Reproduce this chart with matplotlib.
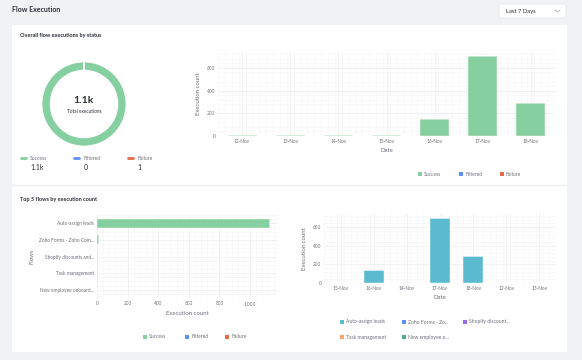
import matplotlib
matplotlib.use('Agg')
import matplotlib.pyplot as plt
import numpy as np
from matplotlib.patches import Rectangle, FancyBboxPatch
from matplotlib.lines import Line2D
from matplotlib.ticker import MultipleLocator, FuncFormatter

plt.rcParams['font.family'] = ['Lato', 'DejaVu Sans']

# donut / status totals
status_names = ['Success', 'Filtered', 'Failure']
status_totals = [1156, 0, 1]
status_labels = ['1.1k', '0', '1']
status_colors = ['#86cfa0', '#5b8ff9', '#e8684a']

# executions per date, by status
dates = ['12-Nov', '13-Nov', '14-Nov', '15-Nov', '16-Nov', '17-Nov', '18-Nov']
success_by_date = [6, 6, 6, 6, 147, 708, 294]
filtered_by_date = [0, 0, 0, 0, 0, 0, 0]
failure_by_date = [0, 0, 0, 0, 0, 1, 0]

# top 5 flows
flows = ['Auto-assign leads', 'Zoho Forms - Zoho Com...', 'Shopify discounts and...',
         'Task management', 'New employee onboard...']
flow_success = [1132, 14, 5, 4, 1]
flow_filtered = [0, 0, 0, 0, 0]
flow_failure = [1, 0, 0, 0, 0]

# per-date executions of the top flows (order as shown in the dashboard)
flow_dates = ['15-Nov', '16-Nov', '14-Nov', '17-Nov', '18-Nov', '12-Nov', '13-Nov']
flow_short = ['Auto-assign leads', 'Zoho Forms - Zo...', 'Shopify discount...',
              'Task management', 'New employee o...']
flow_colors = ['#5bbad0', '#5b8ff9', '#9b6cf0', '#f6a96a', '#4cae8d']
flow_by_date = [
    [5, 142, 5, 696, 289, 5, 5],
    [0, 1, 0, 2, 1, 0, 0],
    [0, 0, 0, 1, 0, 0, 0],
    [0, 0, 0, 1, 0, 0, 0],
    [0, 0, 0, 0, 0, 0, 0],
]

W, H = 582, 360
fig = plt.figure(figsize=(W / 100, H / 100), dpi=100)
fig.patch.set_facecolor('#f1f2f4')

TXT = '#2b2f36'
GREY = '#6b6f76'


def px_axes(x0, y0, x1, y1):
    return fig.add_axes([x0 / W, 1 - y1 / H, (x1 - x0) / W, (y1 - y0) / H])


def ftext(x, y, s, **kw):
    fig.text(x / W, 1 - y / H, s, **kw)


# cards (behind the axes)
fig.patches.append(Rectangle((12 / W, 1 - 352 / H), 555 / W, 327 / H,
                             transform=fig.transFigure, facecolor='white',
                             edgecolor='none', zorder=-2))
fig.lines.append(Line2D([12 / W, 567 / W], [1 - 185 / H, 1 - 185 / H],
                        transform=fig.transFigure, color='#eceef1', lw=1, zorder=-1))

# header
ftext(12, 9, 'Flow Execution', fontsize=5, fontweight='bold', color=TXT, va='center')
fig.patches.append(FancyBboxPatch((499 / W, 1 - 18 / H), 67 / W, 14 / H,
                                  boxstyle='round,pad=0,rounding_size=0.004',
                                  transform=fig.transFigure, facecolor='white',
                                  edgecolor='#e6e8eb', lw=0.6))
ftext(506, 11, 'Last 7 Days', fontsize=4.2, color=TXT, va='center')
fig.lines.append(Line2D([555 / W, 557.5 / W, 560 / W], [1 - 10 / H, 1 - 12 / H, 1 - 10 / H],
                        transform=fig.transFigure, color='#a0a4aa', lw=0.5))

ftext(20, 36, 'Overall flow executions by status', fontsize=4, fontweight='bold',
      color=TXT, va='center')
ftext(20, 199, 'Top 5 flows by execution count', fontsize=4, fontweight='bold',
      color=TXT, va='center')

# donut
ax = px_axes(41, 61, 127, 147)
vals = [v for v in status_totals if v > 0]
cols = [c for v, c in zip(status_totals, status_colors) if v > 0]
ax.pie(vals, colors=cols, startangle=90, counterclock=False, radius=1,
       wedgeprops=dict(width=0.2, edgecolor='white', linewidth=0.8))
ax.set_xlim(-1.02, 1.02)
ax.set_ylim(-1.02, 1.02)
ax.set_aspect('equal')
ax.text(0, 0.08, '1.1k', ha='center', va='center', fontsize=7.5, fontweight='bold', color=TXT)
ax.text(0, -0.17, 'Total executions', ha='center', va='center', fontsize=3.4, color=TXT)

for i, (name, lab, col) in enumerate(zip(status_names, status_labels, status_colors)):
    x = 20 + i * 53.5
    fig.lines.append(Line2D([(x + 0.5) / W, (x + 5.5) / W], [1 - 158 / H, 1 - 158 / H],
                            transform=fig.transFigure, color=col, lw=2,
                            solid_capstyle='round'))
    ftext(x + 10, 158, name, fontsize=3.6, color=GREY, va='center')
    ftext(x + 10, 168, lab, fontsize=5, color=TXT, va='center')


def style_grid(ax):
    ax.set_facecolor('white')
    for s in ax.spines.values():
        s.set_visible(False)
    ax.grid(True, which='major', color='#ececec', lw=0.5)
    ax.grid(True, which='minor', color='#f5f5f5', lw=0.4)
    ax.tick_params(which='both', length=0, labelsize=3.4, labelcolor=GREY, pad=2)
    ax.set_axisbelow(True)


def legend_row(y, items, xs):
    for (name, col), x in zip(items, xs):
        fig.patches.append(Rectangle((x / W, 1 - (y + 2) / H), 4 / W, 4 / H,
                                     transform=fig.transFigure, facecolor=col,
                                     edgecolor='none'))
        ftext(x + 6, y, name, fontsize=3.6, color=GREY, va='center')


bar_kw = dict(edgecolor='white', linewidth=0.3)

# executions by date
ax = px_axes(218, 52, 555, 136)
x = np.arange(len(dates))
ax.bar(x, success_by_date, width=0.6, color=status_colors[0], **bar_kw)
ax.bar(x, filtered_by_date, width=0.6, bottom=success_by_date, color=status_colors[1], **bar_kw)
ax.bar(x, failure_by_date, width=0.6,
       bottom=np.add(success_by_date, filtered_by_date), color=status_colors[2], **bar_kw)
ax.set_xticks(x)
ax.set_xticklabels(dates)
ax.set_xlim(-0.5, len(dates) - 0.5)
ax.set_xticks(np.arange(-0.5, len(dates) - 0.4, 1 / 7), minor=True)
ax.set_ylim(0, 740)
ax.yaxis.set_major_locator(MultipleLocator(200))
ax.yaxis.set_minor_locator(MultipleLocator(40))
style_grid(ax)
ax.set_xlabel('Date', fontsize=4.3, color=GREY, labelpad=3)
ax.set_ylabel('Execution count', fontsize=4.3, color=GREY, labelpad=4)
legend_row(174, list(zip(status_names, status_colors)), [418, 459, 500])

# top flows horizontal bars
ax = px_axes(97, 215, 278, 298)
y = np.arange(len(flows))
ax.barh(y, flow_success, height=0.55, color=status_colors[0], **bar_kw)
ax.barh(y, flow_filtered, height=0.55, left=flow_success, color=status_colors[1], **bar_kw)
ax.barh(y, flow_failure, height=0.55, left=np.add(flow_success, flow_filtered),
        color=status_colors[2], **bar_kw)
ax.set_yticks(y)
ax.set_yticklabels(flows)
ax.set_ylim(len(flows) - 0.5, -0.5)
ax.set_yticks(np.arange(-0.5, len(flows) - 0.4, 0.25), minor=True)
ax.set_xlim(0, 1183)
ax.xaxis.set_major_locator(MultipleLocator(200))
ax.xaxis.set_minor_locator(MultipleLocator(40))
ax.xaxis.set_major_formatter(FuncFormatter(lambda v, p: f'{int(v):,}'))
style_grid(ax)
ax.set_xlabel('Execution count', fontsize=4.3, color=GREY, labelpad=4)
ax.set_ylabel('Flows', fontsize=4.3, color=GREY, labelpad=3)
legend_row(337, list(zip(status_names, status_colors)), [143, 185, 225])

# flows by date stacked
ax = px_axes(324, 214, 556, 283)
x = np.arange(len(flow_dates))
bottom = np.zeros(len(flow_dates))
for vals, col in zip(flow_by_date, flow_colors):
    ax.bar(x, vals, width=0.6, bottom=bottom, color=col, **bar_kw)
    bottom += vals
ax.set_xticks(x)
ax.set_xticklabels(flow_dates)
ax.set_xlim(-0.5, len(flow_dates) - 0.5)
ax.set_xticks(np.arange(-0.5, len(flow_dates) - 0.4, 1 / 5), minor=True)
ax.set_ylim(0, 740)
ax.yaxis.set_major_locator(MultipleLocator(200))
ax.yaxis.set_minor_locator(MultipleLocator(40))
style_grid(ax)
ax.set_xlabel('Date', fontsize=4.3, color=GREY, labelpad=3)
ax.set_ylabel('Execution count', fontsize=4.3, color=GREY, labelpad=4)
items = list(zip(flow_short, flow_colors))
legend_row(322, items[:3], [340, 402, 463])
legend_row(337, items[3:], [340, 402])

fig.savefig('out.png', dpi=100, facecolor=fig.get_facecolor())
